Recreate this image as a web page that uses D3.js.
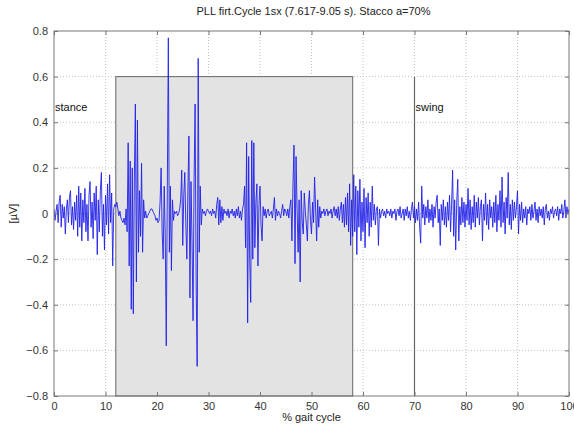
<!DOCTYPE html>
<html>
<head>
<meta charset="utf-8">
<script src="https://cdn.jsdelivr.net/npm/d3@7"></script>
<style>
  body { margin: 0; background: #fff; }
  svg { display: block; font-family: "Liberation Sans", Arial, sans-serif; }
  .grid line { stroke: #c4c4c4; stroke-dasharray: 1,2; }
  .axis text { font-size: 11px; fill: #333; }
  .axis path, .axis line { stroke: #777; }
</style>
</head>
<body>
<script>
// EMG trace, one sample every 0.2 % of the gait cycle (0 .. 100)
const emgStep = 0.2;
const emg = [
  0.02, -0.03, 0.01, 0.04, -0.04, 0.05, 0.08, -0.06, 0.04, -0.02, 0.03, -0.09, 0.02, 0.06, -0.04, 0.07, 0.10, -0.05, 0.03, -0.07, 0.05, -0.03, 0.08, -0.10, 0.12,
  -0.06, 0.09, -0.12, 0.06, -0.04, 0.11, -0.08, 0.04, -0.12, 0.08, 0.14, -0.06, 0.05, -0.11, 0.09, -0.03, 0.12, -0.18, 0.06, -0.08, 0.10, 0.18, -0.10, 0.04, -0.16,
  0.08, -0.05, 0.13, -0.09, 0.17, -0.04, 0.09, -0.23, 0.02, 0.04, 0.03, 0.05, 0.02, -0.01, 0.01, -0.02, -0.03, -0.04, -0.02, -0.05, 0.02, -0.08, 0.31, -0.23, 0.23,
  -0.42, 0.20, -0.44, 0.15, 0.48, -0.30, 0.41, -0.17, 0.10, -0.10, 0.22, -0.17, 0.06, -0.02, 0.01, -0.02, -0.01, 0.00, 0.01, 0.02, 0.02, 0.01, 0.00, -0.01, -0.03,
  -0.02, -0.04, -0.03, 0.05, 0.20, -0.08, -0.20, 0.12, -0.10, -0.58, 0.10, 0.77, -0.17, 0.12, -0.25, 0.06, -0.03, 0.01, 0.00, 0.01, -0.01, 0.00, 0.02, 0.06, 0.19,
  -0.14, 0.08, 0.18, -0.05, -0.20, 0.10, 0.34, -0.37, 0.14, -0.12, -0.47, 0.15, 0.48, -0.30, -0.67, 0.68, -0.17, 0.12, -0.05, 0.02, 0.00, 0.01, -0.01, 0.01, 0.02,
  0.01, 0.00, 0.01, -0.01, 0.02, 0.00, 0.01, -0.02, 0.04, 0.07, -0.05, 0.06, -0.04, 0.03, -0.03, 0.02, 0.00, 0.01, -0.01, 0.02, -0.02, 0.01, 0.00, 0.02, -0.01,
  0.01, -0.02, 0.02, -0.01, 0.03, -0.02, 0.01, -0.03, 0.02, 0.04, 0.12, -0.15, 0.31, -0.48, 0.25, -0.20, -0.39, 0.32, -0.20, 0.31, -0.15, 0.05, 0.13, -0.23, 0.04,
  0.12, -0.05, -0.12, 0.03, -0.01, 0.02, -0.02, 0.01, 0.02, -0.01, 0.00, 0.01, -0.02, 0.02, 0.07, -0.03, 0.02, -0.01, 0.01, 0.00, -0.02, 0.01, 0.04, -0.01, 0.02,
  0.01, -0.01, 0.02, -0.02, 0.03, 0.06, -0.12, 0.12, 0.30, -0.22, 0.25, 0.02, -0.17, 0.06, -0.30, 0.10, -0.04, -0.09, 0.09, 0.01, -0.05, -0.12, 0.04, 0.10, -0.03,
  -0.09, 0.05, -0.04, 0.16, 0.02, -0.12, 0.06, -0.06, 0.03, -0.02, 0.01, 0.00, 0.02, -0.01, 0.01, 0.02, -0.01, 0.01, 0.00, 0.02, -0.02, 0.01, 0.03, -0.01, 0.02,
  -0.02, 0.03, -0.03, 0.02, 0.05, -0.04, 0.04, -0.06, 0.07, -0.05, 0.09, -0.08, 0.13, -0.14, 0.06, -0.10, 0.17, -0.08, 0.12, -0.18, 0.10, -0.06, 0.15, -0.12, 0.05,
  -0.08, 0.11, -0.15, 0.07, -0.04, 0.09, -0.10, 0.05, -0.06, 0.12, -0.03, 0.04, -0.05, 0.02, 0.03, -0.14, 0.02, -0.02, 0.01, 0.02, -0.01, 0.01, -0.02, 0.02, 0.00,
  0.01, -0.01, 0.02, -0.02, 0.01, 0.00, 0.02, -0.03, 0.01, 0.02, -0.01, 0.03, -0.02, 0.00, 0.02, -0.03, 0.02, -0.01, 0.03, -0.02, 0.01, -0.03, 0.02, 0.05, -0.02,
  0.03, -0.04, 0.02, -0.03, 0.05, -0.06, -0.13, 0.12, -0.02, 0.04, -0.05, 0.03, -0.02, 0.06, -0.04, 0.02, -0.03, 0.04, -0.06, 0.03, -0.02, 0.05, 0.08, -0.04, 0.02,
  -0.14, 0.04, -0.03, 0.06, -0.05, 0.03, -0.06, 0.05, -0.03, 0.08, -0.08, 0.04, 0.19, -0.10, 0.06, -0.16, 0.05, 0.15, -0.12, 0.03, -0.05, 0.07, -0.04, 0.05, -0.06,
  0.04, -0.03, 0.11, -0.05, 0.06, -0.07, 0.03, -0.04, 0.08, -0.06, 0.05, -0.02, 0.07, -0.05, 0.03, 0.06, -0.12, 0.04, -0.03, 0.09, -0.05, 0.04, -0.07, 0.06, -0.02,
  0.03, -0.06, 0.05, -0.04, 0.08, -0.08, 0.04, -0.03, 0.10, -0.06, 0.16, -0.04, 0.05, -0.09, 0.07, -0.02, 0.18, -0.05, 0.04, -0.07, 0.06, -0.03, 0.05, -0.02, 0.03,
  0.10, -0.09, 0.04, -0.03, 0.05, -0.04, 0.02, -0.02, 0.03, -0.05, 0.02, 0.00, 0.03, -0.03, 0.04, -0.02, 0.01, 0.05, -0.03, 0.02, -0.04, 0.03, -0.01, 0.02, -0.02,
  0.03, -0.05, 0.02, 0.04, -0.02, 0.01, -0.03, 0.02, 0.00, 0.03, -0.02, 0.01, 0.02, -0.01, 0.03, -0.03, 0.02, 0.00, 0.04, -0.02, 0.01, 0.06, -0.02, 0.03, 0.00,
  0.02
];

const xTicks = [0, 10, 20, 30, 40, 50, 60, 70, 80, 90, 100];
const yTicks = [-0.8, -0.6, -0.4, -0.2, 0, 0.2, 0.4, 0.6, 0.8];
const activeWindow = [12, 58];   // shaded part, up to 0.6 µV
const activeTop = 0.6;
const swingStart = 70;
const phases = [{ label: "stance", at: 0 }, { label: "swing", at: 70 }];
const phaseLabelY = 0.45;

const width = 574, height = 424;
const margin = { top: 31, right: 5, bottom: 28, left: 54 };

const svg = d3.select("body").append("svg")
  .attr("width", width)
  .attr("height", height);

const x = d3.scaleLinear().domain([0, 100]).range([margin.left, width - margin.right]);
const y = d3.scaleLinear().domain([-0.8, 0.8]).range([height - margin.bottom, margin.top]);

// grid
svg.append("g").attr("class", "grid")
  .selectAll("line.gx").data(xTicks.slice(1, -1)).join("line")
  .attr("x1", d => x(d)).attr("x2", d => x(d))
  .attr("y1", y(0.8)).attr("y2", y(-0.8));
svg.select("g.grid")
  .selectAll("line.gy").data(yTicks.slice(1, -1)).join("line")
  .attr("class", "gy")
  .attr("x1", x(0)).attr("x2", x(100))
  .attr("y1", d => y(d)).attr("y2", d => y(d));

// shaded active window
svg.append("rect")
  .attr("x", x(activeWindow[0]))
  .attr("y", y(activeTop))
  .attr("width", x(activeWindow[1]) - x(activeWindow[0]))
  .attr("height", y(-0.8) - y(activeTop))
  .attr("fill", "#e3e3e3")
  .attr("stroke", "#666")
  .attr("stroke-width", 1);

// swing onset
svg.append("line")
  .attr("x1", x(swingStart)).attr("x2", x(swingStart))
  .attr("y1", y(activeTop)).attr("y2", y(-0.8))
  .attr("stroke", "#666").attr("stroke-width", 1.2);

svg.append("defs").append("clipPath").attr("id", "plot")
  .append("rect")
  .attr("x", x(0)).attr("y", y(0.8))
  .attr("width", x(100) - x(0)).attr("height", y(-0.8) - y(0.8));

// signal
const line = d3.line()
  .x((d, i) => x(i * emgStep))
  .y(d => y(d));

svg.append("path")
  .datum(emg)
  .attr("clip-path", "url(#plot)")
  .attr("fill", "none")
  .attr("stroke", "#2020e8")
  .attr("stroke-width", 0.9)
  .attr("stroke-linejoin", "round")
  .attr("d", line);

// phase labels
svg.selectAll("text.phase").data(phases).join("text")
  .attr("class", "phase")
  .attr("x", d => x(d.at) + 1)
  .attr("y", y(phaseLabelY))
  .attr("font-size", 11)
  .attr("fill", "#111")
  .text(d => d.label);

// axes (ticks inside, MATLAB style)
const fmt = d3.format("");
svg.append("g").attr("class", "axis")
  .attr("transform", `translate(0,${y(-0.8)})`)
  .call(d3.axisBottom(x).tickValues(xTicks).tickSizeInner(-4).tickSizeOuter(0).tickPadding(6).tickFormat(fmt))
  .call(g => g.select(".domain").remove());
svg.append("g").attr("class", "axis")
  .attr("transform", `translate(0,${y(0.8)})`)
  .call(d3.axisTop(x).tickValues(xTicks).tickSizeInner(-4).tickSizeOuter(0).tickFormat(""))
  .call(g => g.select(".domain").remove());
svg.append("g").attr("class", "axis")
  .attr("transform", `translate(${x(0)},0)`)
  .call(d3.axisLeft(y).tickValues(yTicks).tickSizeInner(-4).tickSizeOuter(0).tickPadding(6).tickFormat(fmt))
  .call(g => g.select(".domain").remove());
svg.append("g").attr("class", "axis")
  .attr("transform", `translate(${x(100)},0)`)
  .call(d3.axisRight(y).tickValues(yTicks).tickSizeInner(-4).tickSizeOuter(0).tickFormat(""))
  .call(g => g.select(".domain").remove());

svg.append("rect")
  .attr("x", x(0)).attr("y", y(0.8))
  .attr("width", x(100) - x(0)).attr("height", y(-0.8) - y(0.8))
  .attr("fill", "none").attr("stroke", "#777").attr("stroke-width", 1);

// titles
svg.append("text")
  .attr("x", (x(0) + x(100)) / 2 + 2).attr("y", 15)
  .attr("text-anchor", "middle").attr("font-size", 11).attr("fill", "#222")
  .text("PLL firt.Cycle 1sx (7.617-9.05 s). Stacco a=70%");

svg.append("text")
  .attr("x", (x(0) + x(100)) / 2).attr("y", height - 3)
  .attr("text-anchor", "middle").attr("font-size", 11).attr("fill", "#222")
  .text("% gait cycle");

svg.append("text")
  .attr("transform", `translate(17,${y(0)}) rotate(-90)`)
  .attr("text-anchor", "middle").attr("font-size", 11).attr("fill", "#222")
  .text("[µV]");
</script>
</body>
</html>
